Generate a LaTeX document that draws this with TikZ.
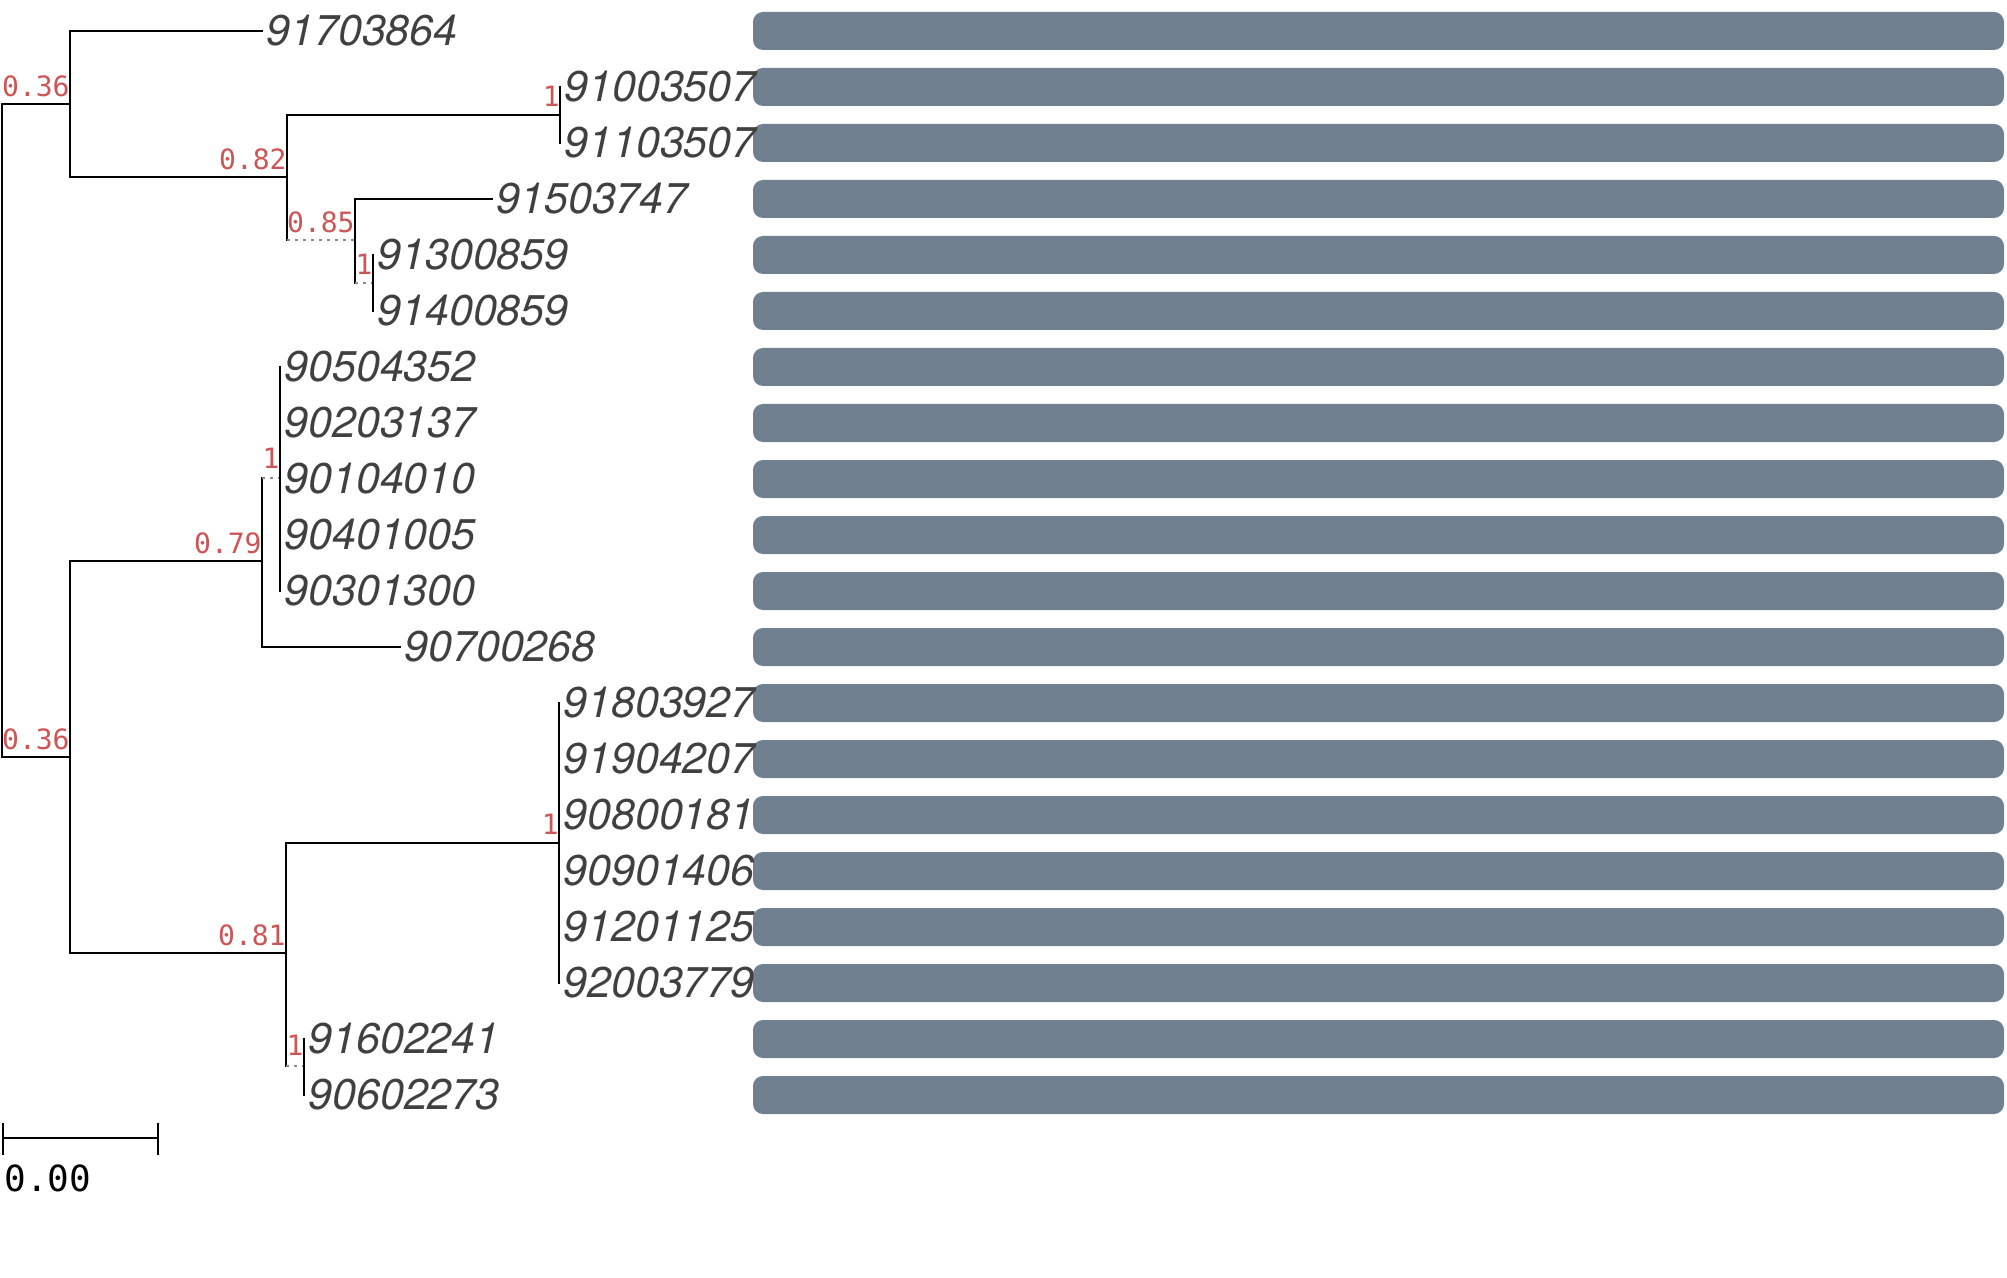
\documentclass[tikz,border=0pt]{standalone}
\usepackage{fontspec}
\newfontfamily\leaffont{TeX Gyre Heros}
\newfontfamily\bsfont{DejaVu Sans Mono}
\definecolor{barcol}{RGB}{112,128,144}
\definecolor{bscol}{RGB}{205,85,85}
\definecolor{leafcol}{RGB}{64,64,64}
\begin{document}
\begin{tikzpicture}[x=0.5pt,y=-0.5pt,
  branch/.style={line width=1.25pt,black,line cap=rect},
  dotbranch/.style={line width=1.2pt,black!45,dash pattern=on 1.5pt off 2.5pt},
  leaf/.style={anchor=west,inner sep=0pt,font=\leaffont\itshape\fontsize{21.5}{21.5}\selectfont,text=leafcol},
  bs/.style={anchor=south east,inner sep=0pt,font=\bsfont\fontsize{14}{14}\selectfont,text=bscol},
  bar/.style={fill=barcol,rounded corners=5pt}]
\useasboundingbox (0,0) rectangle (2007,1278);

% bars
\foreach \i in {0,...,19}{
  \fill[bar] (753,{12+56*\i}) rectangle (2004,{50+56*\i});
}

% leaf labels
\node[leaf] (l0) at (266,31) {91703864};
\node[leaf] (l1) at (564,87) {91003507};
\node[leaf] (l2) at (564,143) {91103507};
\node[leaf] (l3) at (496,199) {91503747};
\node[leaf] (l4) at (377,255) {91300859};
\node[leaf] (l5) at (377,311) {91400859};
\node[leaf] (l6) at (284,367) {90504352};
\node[leaf] (l7) at (284,423) {90203137};
\node[leaf] (l8) at (284,479) {90104010};
\node[leaf] (l9) at (284,535) {90401005};
\node[leaf] (l10) at (284,591) {90301300};
\node[leaf] (l11) at (404,647) {90700268};
\node[leaf] (l12) at (563,703) {91803927};
\node[leaf] (l13) at (563,759) {91904207};
\node[leaf] (l14) at (563,815) {90800181};
\node[leaf] (l15) at (563,871) {90901406};
\node[leaf] (l16) at (563,927) {91201125};
\node[leaf] (l17) at (563,983) {92003779};
\node[leaf] (l18) at (308,1039) {91602241};
\node[leaf] (l19) at (308,1095) {90602273};

% internal nodes
\coordinate (nR) at (2,430);
\coordinate (nA) at (70,104);
\coordinate (nB) at (70,757);
\coordinate (nC) at (287,177);
\coordinate (nD) at (560,115);
\coordinate (nE) at (355,240);
\coordinate (nF) at (373,283);
\coordinate (nI) at (262,561);
\coordinate (nJ) at (280,478);
\coordinate (nG) at (286,953);
\coordinate (nK) at (559,843);
\coordinate (nH) at (304,1066);

% branches
\draw[branch] (nR|-nA) -- (nR|-nB);
\draw[branch] (nR|-nA) -- (nA);
\draw[branch] (nR|-nB) -- (nB);
% A
\draw[branch] (nA|-l0) -- (nA|-nC);
\draw[branch] (nA|-l0) -- ([xshift=-2pt]l0.west);
\draw[branch] (nA|-nC) -- (nC);
% C
\draw[branch] (nC|-nD) -- (nC|-nE);
\draw[branch] (nC|-nD) -- (nD);
\draw[dotbranch] (nC|-nE) -- (nE);
% D
\draw[branch] (nD|-l1) -- (nD|-l2);
% E
\draw[branch] (nE|-l3) -- (nE|-nF);
\draw[branch] (nE|-l3) -- ([xshift=-2pt]l3.west);
\draw[dotbranch] (nE|-nF) -- (nF);
% F
\draw[branch] (nF|-l4) -- (nF|-l5);
% B
\draw[branch] (nB|-nI) -- (nB|-nG);
\draw[branch] (nB|-nI) -- (nI);
\draw[branch] (nB|-nG) -- (nG);
% I
\draw[branch] (nI|-nJ) -- (nI|-l11);
\draw[dotbranch] (nI|-nJ) -- (nJ);
\draw[branch] (nI|-l11) -- ([xshift=-2pt]l11.west);
% J
\draw[branch] (nJ|-l6) -- (nJ|-l10);
% G
\draw[branch] (nG|-nK) -- (nG|-nH);
\draw[branch] (nG|-nK) -- (nK);
\draw[dotbranch] (nG|-nH) -- (nH);
% K
\draw[branch] (nK|-l12) -- (nK|-l17);
% H
\draw[branch] (nH|-l18) -- (nH|-l19);

% support values
\node[bs] (bA) at ([yshift=3.5pt]nA) {0.36};
\node[bs] (bB) at ([yshift=3.5pt]nB) {0.36};
\node[bs] (bC) at ([yshift=3.5pt]nC) {0.82};
\node[bs] (bD) at ([yshift=4pt]nD) {1};
\node[bs] (bE) at ([yshift=3.5pt]nE) {0.85};
\node[bs] (bF) at ([yshift=4pt]nF) {1};
\node[bs] (bI) at ([yshift=3.5pt]nI) {0.79};
\node[bs] (bJ) at ([yshift=4.5pt]nJ) {1};
\node[bs] (bG) at ([yshift=3.5pt]nG) {0.81};
\node[bs] (bK) at ([yshift=4pt]nK) {1};
\node[bs] (bH) at ([yshift=5pt]nH) {1};

% scale bar
\coordinate (s1) at (3,1138);
\coordinate (s2) at (158,1138);
\draw[line width=1.25pt] (s1) -- (s2);
\draw[line width=1.25pt] ([yshift=7.5pt]s1) -- ([yshift=-8.5pt]s1);
\draw[line width=1.25pt] ([yshift=7.5pt]s2) -- ([yshift=-8.5pt]s2);
\node[anchor=north west,inner sep=0pt,font=\bsfont\fontsize{18}{18}\selectfont] (sl) at (4,1164) {0.00};
\end{tikzpicture}
\end{document}
